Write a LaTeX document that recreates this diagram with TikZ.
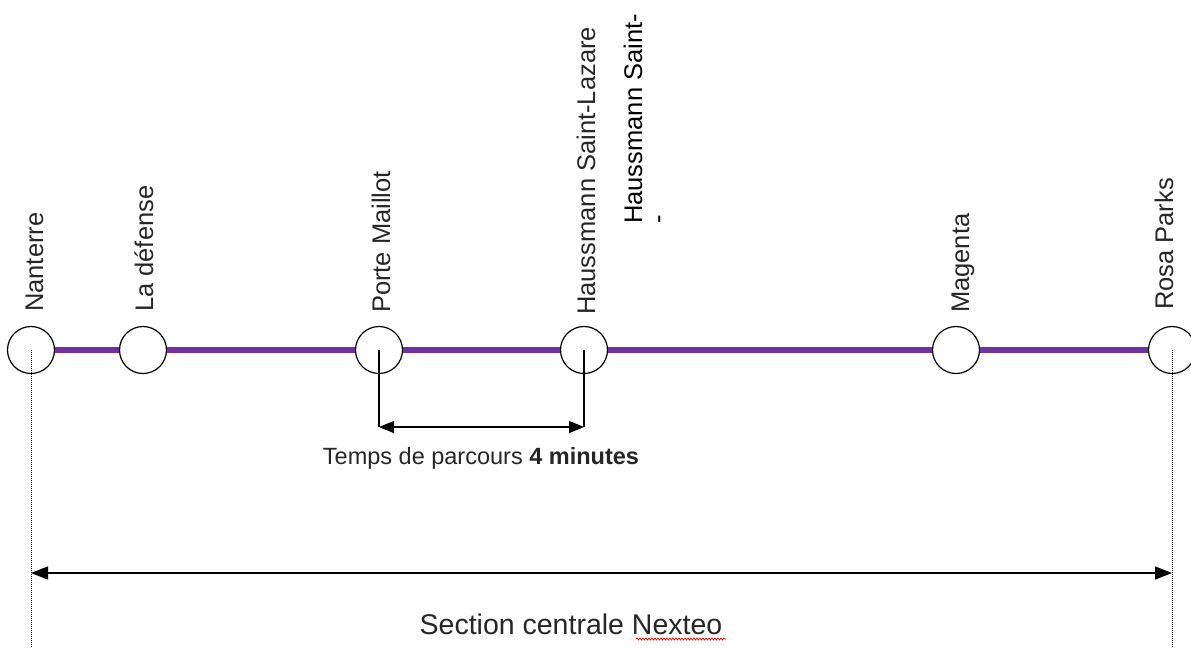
\documentclass[tikz,border=0pt]{standalone}
\usepackage{fontspec}
\setmainfont{Liberation Sans}
\usetikzlibrary{arrows.meta, positioning, decorations.pathmorphing}
\definecolor{linepurple}{RGB}{112,48,160}
\definecolor{labelgray}{RGB}{38,38,38}

\begin{document}
\begin{tikzpicture}[x=1pt,y=-1pt,
 main node/.style={circle,draw,fill=white,line width=1.2pt,minimum size=47pt,inner sep=0pt},
 stat label/.style={rotate=90,anchor=base west,inner sep=0pt,text=labelgray,font=\fontsize{25.5}{24}\selectfont},
 dim line/.style={line width=1.2pt,{Triangle[length=15pt,width=12pt]}-{Triangle[length=15pt,width=12pt]}},
 long dim/.style={line width=1.3pt,{Triangle[length=17pt,width=13pt]}-{Triangle[length=17pt,width=13pt]}},
 guide/.style={line width=0.9pt,dash pattern=on 1pt off 1pt}]

  \useasboundingbox (0,0) rectangle (1191,648);

  % stations
  \node[main node] (N) at (31,350) {};
  \node[main node] (D) at (143,350) {};
  \node[main node] (M) at (379,350) {};
  \node[main node] (H) at (584,350) {};
  \node[main node] (G) at (956,350) {};
  \node[main node] (R) at (1172,350) {};

  \foreach \s/\t in {N/D, D/M, M/H, H/G, G/R} {
   \path[draw,linepurple,line width=6pt] (\s) -- (\t);}

  % names
  \node[stat label] (NL) at (43,312) {Nanterre};
  \node[stat label] (DL) at (153,312) {La défense};
  \node[stat label] (ML) at (390,313) {Porte Maillot};
  \node[stat label] (HL) at (595,315) {Haussmann Saint-Lazare};
  \node[stat label,text=black,align=left] (HX) at (666,224) {Haussmann Saint-\\-};
  \node[stat label] (GL) at (969,313) {Magenta};
  \node[stat label] (RL) at (1173,310) {Rosa Parks};

  % travel time
  \coordinate (m) at (379,427);
  \coordinate (h) at (584,427);
  \draw[line width=1.2pt] (M.center) -- (m);
  \draw[line width=1.2pt] (H.center) -- (h);
  \draw[dim line] (m) -- (h);
  \node[anchor=base,inner sep=0pt,text=labelgray,font=\fontsize{23.5}{28}\selectfont] (T) at (481,464)
   {Temps de parcours \textbf{4 minutes}};

  % central section
  \coordinate (n) at (31,648);
  \coordinate (r) at (1172,648);
  \draw[guide] (N.center) -- (n);
  \draw[guide] (R.center) -- (r);
  \coordinate (a) at (31,573);
  \coordinate (b) at (1172,573);
  \draw[long dim] (a) -- (b);
  \node[anchor=base,inner sep=0pt,text=labelgray,font=\fontsize{28.5}{34}\selectfont] (S) at (571,634)
   {Section centrale Nexteo};
  \draw[red,line width=0.7pt,decorate,decoration={snake,amplitude=1pt,segment length=3pt}]
   (636,639) -- (726,639);

\end{tikzpicture}
\end{document}
